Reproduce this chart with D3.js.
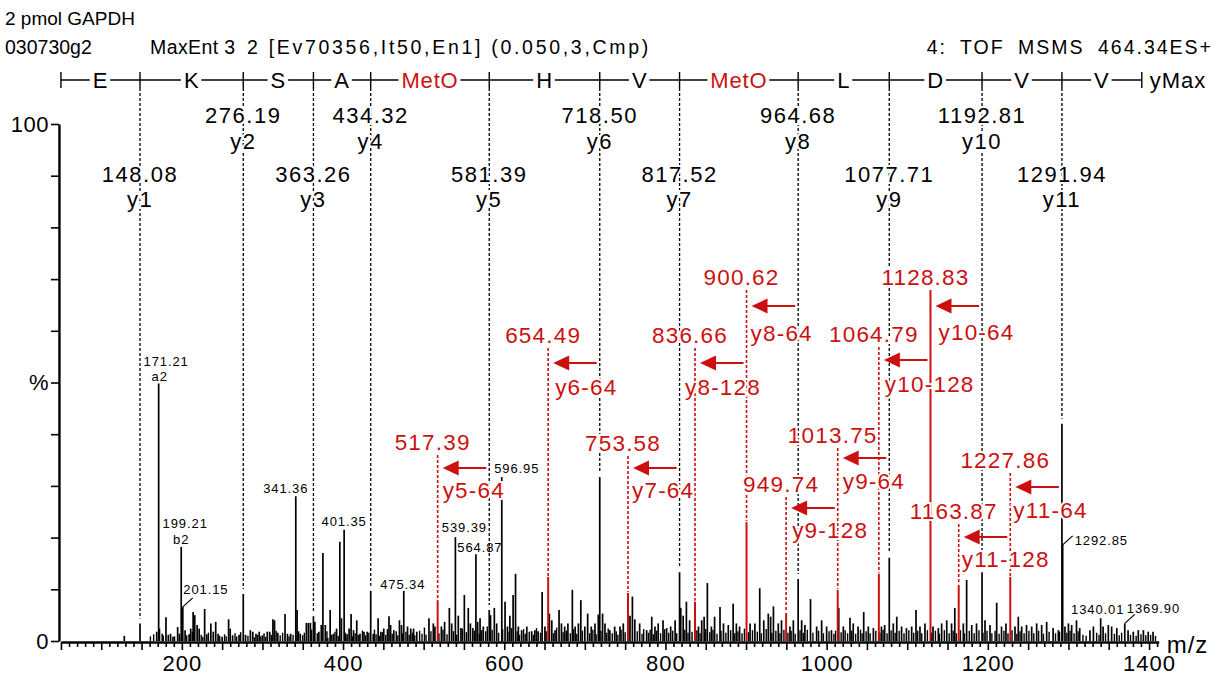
<!DOCTYPE html>
<html>
<head>
<meta charset="utf-8">
<script src="https://cdn.jsdelivr.net/npm/d3@7"></script>
<style>
  html, body { margin: 0; padding: 0; background: #fff; }
  svg { display: block; font-family: "Liberation Sans", Arial, sans-serif; }
</style>
</head>
<body>
<svg id="chart" width="1223" height="675"></svg>
<script>
// ---------- spectrum data ----------
const titleLine = "2 pmol GAPDH";
const runInfo = ["030730g2", "MaxEnt 3", "2 [Ev70356,It50,En1] (0.050,3,Cmp)"];
const scanInfo = "4: TOF MSMS 464.34ES+";

// peptide read from the y-ion ladder (C-terminus on the right)
const residues = ["E", "K", "S", "A", "MetO", "H", "V", "MetO", "L", "D", "V", "V"];
const modifiedResidue = "MetO";
const yIonNames = ["y1", "y2", "y3", "y4", "y5", "y6", "y7", "y8", "y9", "y10", "y11"];
const yIonMz = [148.08, 276.19, 363.26, 434.32, 581.39, 718.50, 817.52, 964.68, 1077.71, 1192.81, 1291.94];
const yMaxMz = 1391.0;

// neutral-loss (-64 / -128) fragments of the oxidised methionines
const lossMz = [517.39, 654.49, 753.58, 836.66, 900.62, 949.74, 1013.75, 1064.79, 1128.83, 1163.87, 1227.86];
const lossNames = ["y5-64", "y6-64", "y7-64", "y8-128", "y8-64", "y9-128", "y9-64", "y10-128", "y10-64", "y11-128", "y11-64"];
const lossParentMz = [581.39, 718.50, 817.52, 900.62, 964.68, 1013.75, 1077.71, 1128.83, 1192.81, 1227.86, 1291.94];
const lossPct = [7.9, 12.4, 9.3, 7.6, 23.0, 5.4, 9.9, 13.0, 6.4, 10.8, 12.4];

// other annotated peaks
const peakLabelMz = [171.21, 199.21, 201.15, 341.36, 401.35, 475.34, 539.39, 564.87, 596.95, 1292.85, 1340.01, 1369.90];
const peakLabelIon = ["a2", "b2", "", "", "", "", "", "", "", "", "", ""];

// centroided peak list [m/z, relative intensity %]
const peaks = [
  [128.6,1.0],[148.08,3.4],[168.8,1.8],[171.21,49.8],[172.2,2.4],[175.7,1.4],[180.3,4.6],[183.2,1.2],[186.0,1.4],[189.0,0.8],
  [194.8,2.7],[197.0,1.4],[199.21,18.2],[201.15,6.6],[204.0,2.1],[209.0,1.3],[211.0,2.4],[214.0,5.6],[216.0,5.0],[219.0,3.1],
  [221.5,2.4],[228.3,6.2],[231.0,1.3],[236.0,3.4],[239.0,1.8],[242.0,3.7],[245.0,1.4],[250.0,0.8],[258.0,4.2],[260.0,2.4],
  [263.0,1.1],[271.0,1.2],[276.19,9.1],[279.0,1.2],[285.0,2.1],[288.0,1.8],[292.0,1.4],[296.0,1.8],[300.0,1.1],[306.0,1.8],
  [309.0,1.8],[313.0,4.2],[315.0,4.0],[319.0,1.6],[328.0,5.2],[331.0,1.4],[335.0,1.4],[341.36,28.0],[343.0,6.0],[347.0,1.4],
  [354.5,3.5],[357.0,3.5],[359.5,3.5],[363.26,4.8],[365.0,3.7],[370.0,1.8],[373.0,3.1],[375.0,17.0],[378.0,3.1],[381.0,0.6],
  [384.0,6.0],[388.0,1.4],[392.0,2.4],[396.0,19.2],[398.0,4.4],[401.35,21.5],[405.0,1.3],[407.5,2.4],[410.0,5.2],[413.0,2.1],
  [417.0,4.0],[421.0,1.4],[426.0,1.8],[430.0,1.8],[434.32,9.7],[437.5,1.4],[443.5,4.4],[447.0,1.8],[450.5,2.4],[457.0,4.8],
  [459.0,3.1],[463.0,2.1],[470.0,4.0],[472.5,3.1],[475.34,9.7],[480.0,2.8],[484.0,2.4],[487.5,2.4],[491.5,1.8],[506.6,4.4],
  [512.0,3.4],[514.0,2.8],[522.0,2.8],[526.0,3.7],[531.9,6.4],[534.8,3.4],[539.39,20.1],[543.0,4.9],[546.3,2.5],[550.5,8.9],
  [555.4,6.4],[558.0,3.4],[561.0,2.5],[564.87,16.8],[567.0,3.7],[570.0,4.4],[574.0,2.8],[581.39,6.0],[583.0,5.0],[587.7,6.4],
  [590.6,3.4],[596.95,31.7],[601.0,7.6],[604.0,2.8],[607.0,4.9],[611.0,8.9],[614.0,13.0],[617.5,2.8],[621.6,2.1],[628.0,2.8],
  [634.0,1.9],[638.0,2.1],[642.0,1.9],[647.0,9.5],[650.5,2.8],[656.0,5.3],[659.0,4.0],[663.0,2.1],[668.0,6.0],[671.0,3.4],
  [675.0,2.8],[679.0,3.4],[684.5,9.9],[688.0,2.8],[692.0,3.4],[695.0,7.9],[700.0,2.8],[703.5,5.3],[708.0,2.8],[712.6,3.4],
  [716.7,5.1],[718.50,31.7],[722.0,5.3],[725.0,3.4],[731.0,2.1],[737.0,2.8],[743.6,2.8],[747.7,3.4],[756.0,4.9],[759.0,8.6],
  [762.0,4.2],[768.0,3.4],[776.7,2.1],[783.0,4.7],[787.0,2.8],[791.0,3.4],[797.0,4.0],[801.5,2.5],[806.5,2.8],[812.0,4.0],
  [817.52,13.3],[819.0,6.4],[822.0,4.9],[826.0,7.6],[830.0,4.0],[841.0,2.8],[845.0,4.0],[848.0,4.7],[852.0,11.2],[857.0,2.8],
  [861.0,4.7],[867.7,6.6],[872.0,3.4],[878.0,3.1],[884.0,7.2],[888.0,3.4],[892.0,2.8],[905.0,3.4],[911.0,3.4],[917.0,10.2],
  [922.0,4.0],[927.6,5.3],[930.5,4.7],[934.0,6.7],[940.0,3.4],[944.0,4.0],[954.5,2.8],[958.7,4.0],[964.68,12.0],[969.0,4.0],
  [973.0,3.1],[980.0,8.1],[987.6,2.8],[993.8,4.0],[1000.0,2.8],[1006.0,2.1],[1015.0,6.4],[1020.7,2.8],[1029.0,4.5],[1033.0,3.4],
  [1039.0,2.8],[1046.0,5.6],[1051.7,2.8],[1058.0,2.5],[1068.0,2.8],[1072.0,3.1],[1077.71,16.1],[1082.7,3.4],[1087.0,4.7],[1093.0,2.8],
  [1099.0,2.5],[1105.5,2.8],[1110.9,6.0],[1115.8,2.8],[1122.0,3.4],[1132.0,2.8],[1138.6,2.5],[1142.7,3.4],[1149.0,4.0],[1155.0,3.4],
  [1159.0,6.4],[1169.6,3.4],[1173.7,11.8],[1180.0,3.1],[1186.0,3.4],[1192.81,13.3],[1196.5,4.0],[1202.7,3.1],[1211.0,7.4],[1217.0,2.8],
  [1222.5,3.4],[1233.7,2.8],[1237.8,4.7],[1242.0,2.8],[1248.0,3.1],[1254.4,2.8],[1260.6,3.4],[1266.8,3.1],[1273.0,3.7],[1281.0,2.5],
  [1287.5,2.1],[1291.94,42.0],[1292.85,18.6],[1295.7,2.8],[1300.0,3.4],[1304.0,3.1],[1310.0,4.0],[1314.0,2.5],[1326.7,2.1],[1331.0,2.8],
  [1340.01,4.4],[1343.0,2.8],[1349.5,3.1],[1353.6,2.8],[1360.0,2.5],[1369.90,3.4],[1374.0,2.1],[1380.5,1.8],[1386.7,2.1],[1393.0,2.1],
  [1399.0,1.8],[1405.0,1.8]
];

// low-level chemical noise between the main peaks
const noisePeaks = [
  [161,0.9],[165,1.3],[177,1.0],[191,0.9],[206,1.1],[213,1.8],[224,1.2],[226,0.8],[233,1.6],[247,1.0],[253,1.3],[255,0.9],
  [266,1.5],[268,0.9],[273,1.7],[282,1.0],[290,0.7],[294,1.2],[298,0.9],[302,1.5],[304,0.8],[311,1.2],[317,2.0],[322,1.1],
  [325,1.6],[333,0.9],[338,1.2],[345,1.9],[350,1.1],[352,1.6],[361,2.2],[368,1.5],[380,1.9],[386,1.2],[390,1.8],[394,1.0],
  [403,1.6],[412,0.9],[415,1.5],[419,1.2],[424,2.0],[428,1.1],[432,1.6],[439,2.2],[441,1.3],[445,1.0],[449,1.7],[453,1.2],
  [455,2.3],[461,1.4],[466,1.9],[468,1.1],[474,1.5],[478,1.8],[482,1.2],[486,1.6],[489,1.1],[495,2.0],[498,1.4],[501,2.6],
  [503,1.2],[509,1.9],[519,1.5],[524,2.2],[529,1.3],[537,1.9],[541,1.2],[548,2.4],[553,1.7],[563,2.0],[569,1.4],[572,2.1],
  [577,1.9],[579,2.8],[585,2.2],[593,1.6],[598,2.3],[606,1.8],[609,2.5],[616,1.9],[619,1.2],[624,2.3],[626,1.4],[631,1.8],
  [636,1.2],[640,2.5],[645,1.6],[652,1.9],[661,1.5],[665,2.6],[673,1.7],[677,2.0],[682,1.5],[686,2.3],[690,1.4],[697,2.0],
  [706,1.5],[710,2.2],[714,1.3],[720,2.0],[727,1.6],[729,2.4],[734,1.5],[739,1.9],[741,1.2],[745,2.2],[750,1.7],[765,1.9],
  [771,1.4],[773,2.3],[779,1.6],[781,2.2],[785,1.3],[789,2.0],[794,1.5],[799,2.3],[804,1.6],[809,2.0],[814,1.5],[824,2.2],
  [828,1.6],[833,1.8],[839,2.1],[843,1.5],[850,2.3],[855,1.7],[859,2.2],[864,1.4],[869,2.0],[875,1.6],[881,2.1],[886,1.5],
  [890,1.9],[895,1.5],[898,2.4],[903,1.7],[908,2.1],[914,1.8],[919,1.5],[925,2.3],[932,1.6],[937,2.0],[942,1.5],[947,2.2],
  [952,1.6],[956,2.0],[961,1.4],[967,2.1],[971,1.6],[976,2.2],[983,1.6],[990,2.0],[996,1.5],[1003,1.9],[1009,1.4],[1011,2.0],
  [1018,1.7],[1023,2.1],[1026,1.5],[1031,2.0],[1036,1.4],[1042,2.2],[1044,1.5],[1049,1.9],[1054,1.5],[1061,2.0],[1066,1.6],
  [1070,2.2],[1075,1.5],[1080,2.1],[1085,1.6],[1090,2.0],[1096,1.5],[1102,2.1],[1108,1.6],[1113,2.0],[1118,1.5],[1125,2.1],
  [1130,1.6],[1135,2.0],[1140,1.4],[1146,2.1],[1152,1.5],[1157,2.0],[1161,1.5],[1166,2.1],[1171,1.5],[1177,2.0],[1183,1.5],
  [1189,2.1],[1194,1.6],[1199,2.0],[1205,1.5],[1209,2.0],[1214,1.4],[1220,2.0],[1225,1.5],[1230,2.1],[1236,1.4],[1240,1.9],
  [1245,1.5],[1251,2.0],[1257,1.5],[1263,2.0],[1269,1.4],[1276,1.8],[1284,1.5],[1289,1.8],[1298,1.6],[1302,2.0],[1307,1.5],
  [1312,1.9],[1318,1.2],[1322,1.0],[1335,1.6],[1338,1.2],[1346,1.5],[1357,1.4],[1363,1.1],[1366,1.6],[1377,1.2],[1384,1.0],
  [1390,1.3],[1396,1.1],[1402,1.2],[1408,1.0]
];

const xTickLabels = [200, 400, 600, 800, 1000, 1200, 1400];
const yTickLabels = {0: "0", 50: "%", 100: "100"};

// ---------- layout ----------
const RED = "#cc1010";
const barY = 80;
const ionRowMassY = [182, 123];    // odd-numbered ions on the lower row
const ionRowNameY = [207, 149];
const lossLabelY = [450, 343, 451, 343, 285, 492, 443, 342, 285, 519, 468];
const lossArrowY = [468, 363, 468, 363, 306, 508, 458, 360, 306, 537, 487];
const lossNameY  = [498, 395, 498, 395, 341, 538, 489, 392, 340, 567, 518];
const lossNameDx = [5, 7, 4, -10, 4, 6, 5, 6, 8, 3, 3];
const lossSolidLine = [false, false, false, false, false, false, false, false, true, false, false];
// small peak labels: [dx of text, dy of baseline from peak top, anchor, leader]
const peakLabelPlace = [
  [7.5, -18, "middle", false], [4, -19, "middle", false], [0.5, -13, "start", true],
  [-10, -3, "middle", false], [0, -4, "middle", false], [-1, -2, "middle", false],
  [9, -5, "middle", false], [4, -2, "middle", false], [15, -4, "middle", false],
  [12, 0, "start", true], [-3, -4, "middle", false], [2, -10, "start", true]
];
const peakIonDx = [1, 0];

const svg = d3.select("#chart");

const x = d3.scaleLinear().domain([50, 1412]).range([60.95, 1158.7]);
const y = d3.scaleLinear().domain([0, 100]).range([641, 124]);

const pctAt = mz => {
  const p = peaks.find(d => Math.abs(d[0] - mz) < 0.01);
  return p ? p[1] : 0;
};

// ---------- header ----------
svg.append("text").attr("x", 5).attr("y", 25).attr("font-size", 19).text(titleLine);
const runX = [5, 150, 247];
const runSpacing = [0, 0.4, 2.7];
runInfo.forEach((t, i) => {
  svg.append("text").attr("x", runX[i]).attr("y", 54).attr("font-size", 19.5)
    .attr("letter-spacing", runSpacing[i]).text(t);
});
svg.append("text").attr("x", 1213).attr("y", 54).attr("font-size", 19.5)
  .attr("letter-spacing", 2).attr("word-spacing", 6)
  .attr("text-anchor", "end").text(scanInfo);

// ---------- peaks ----------
const gPeaks = svg.append("g");
gPeaks.selectAll("line.n").data(noisePeaks).join("line")
  .attr("x1", d => x(d[0])).attr("x2", d => x(d[0]))
  .attr("y1", y(0)).attr("y2", d => y(d[1]))
  .attr("stroke", "#000").attr("stroke-width", 1.4);
gPeaks.selectAll("line.p").data(peaks).join("line")
  .attr("x1", d => x(d[0])).attr("x2", d => x(d[0]))
  .attr("y1", y(0)).attr("y2", d => y(d[1]))
  .attr("stroke", "#000").attr("stroke-width", 1.7);

// ---------- sequence bar ----------
const gBar = svg.append("g");
const cuts = [x(50)].concat(yIonMz.map(x), [x(yMaxMz)]);
gBar.append("line").attr("x1", cuts[0]).attr("x2", cuts[cuts.length - 1])
  .attr("y1", barY).attr("y2", barY).attr("stroke", "#000").attr("stroke-width", 1.4);
cuts.forEach(cx => {
  gBar.append("line").attr("x1", cx).attr("x2", cx).attr("y1", barY - 8).attr("y2", barY + 8)
    .attr("stroke", "#000").attr("stroke-width", 1.4);
});
residues.forEach((r, i) => {
  const t = gBar.append("text")
    .attr("x", (cuts[i] + cuts[i + 1]) / 2).attr("y", barY + 8)
    .attr("text-anchor", "middle").attr("font-size", 22).attr("letter-spacing", 0.8)
    .attr("fill", r === modifiedResidue ? RED : "#000")
    .text(r);
  // knock the bar line out behind the residue name
  const b = t.node().getBBox();
  gBar.insert("rect", () => t.node())
    .attr("x", b.x - 3).attr("y", barY - 3).attr("width", b.width + 5).attr("height", 6)
    .attr("fill", "#fff");
});
gBar.append("text").attr("x", x(yMaxMz) + 8).attr("y", barY + 8)
  .attr("font-size", 22).attr("letter-spacing", 1).text("yMax");

// ---------- y-ion ladder ----------
const gIon = svg.append("g");
yIonMz.forEach(mz => {
  const top = y(pctAt(mz));
  gIon.append("line").attr("x1", x(mz)).attr("x2", x(mz))
    .attr("y1", barY + 8).attr("y2", top - 5)
    .attr("stroke", "#000").attr("stroke-width", 1.3).attr("stroke-dasharray", "3,2");
});
yIonMz.forEach((mz, i) => {
  const row = i % 2 === 0 ? 0 : 1;
  const t = [[mz.toFixed(2), ionRowMassY[row]], [yIonNames[i], ionRowNameY[row]]];
  t.forEach(([s, ty]) => {
    gIon.append("text").attr("x", x(mz)).attr("y", ty)
      .attr("text-anchor", "middle").attr("font-size", 22).attr("letter-spacing", 1.5)
      .attr("stroke", "#fff").attr("stroke-width", 4).attr("paint-order", "stroke")
      .text(s);
  });
});

// ---------- neutral-loss annotations ----------
const gLoss = svg.append("g");
lossMz.forEach((mz, i) => {
  const cx = x(mz);
  gLoss.append("line").attr("x1", cx).attr("x2", cx)
    .attr("y1", y(0)).attr("y2", y(lossPct[i]))
    .attr("stroke", RED).attr("stroke-width", 2);
  gLoss.append("line").attr("x1", cx).attr("x2", cx)
    .attr("y1", lossLabelY[i] + 5)
    .attr("y2", lossSolidLine[i] ? y(lossPct[i]) : y(lossPct[i]) - 1)
    .attr("stroke", RED).attr("stroke-width", lossSolidLine[i] ? 2 : 1.6)
    .attr("stroke-dasharray", lossSolidLine[i] ? null : "3,2");
});
lossMz.forEach((mz, i) => {
  const cx = x(mz);
  const ay = lossArrowY[i];
  const head = cx + 5, tail = x(lossParentMz[i]) - 3;
  gLoss.append("line").attr("x1", head + 10).attr("x2", tail)
    .attr("y1", ay).attr("y2", ay).attr("stroke", RED).attr("stroke-width", 2.2);
  gLoss.append("path")
    .attr("d", `M${head},${ay} L${head + 16},${ay - 7.5} L${head + 16},${ay + 7.5} Z`)
    .attr("fill", RED);
  gLoss.append("text").attr("x", cx - 5).attr("y", lossLabelY[i])
    .attr("text-anchor", "middle").attr("font-size", 22.5).attr("letter-spacing", 1.2)
    .attr("fill", RED).attr("stroke", "#fff").attr("stroke-width", 4).attr("paint-order", "stroke")
    .text(mz.toFixed(2));
  gLoss.append("text").attr("x", cx + lossNameDx[i]).attr("y", lossNameY[i])
    .attr("font-size", 22.5).attr("letter-spacing", 1.2)
    .attr("fill", RED).attr("stroke", "#fff").attr("stroke-width", 4).attr("paint-order", "stroke")
    .text(lossNames[i]);
});

// ---------- small peak labels ----------
const gLab = svg.append("g");
peakLabelMz.forEach((mz, i) => {
  const [dx, dy, anchor, leader] = peakLabelPlace[i];
  const px = x(mz), py = y(pctAt(mz));
  const ion = peakLabelIon[i];
  if (leader) {
    gLab.append("line").attr("x1", px).attr("y1", py)
      .attr("x2", px + 10).attr("y2", py - 9)
      .attr("stroke", "#000").attr("stroke-width", 1.2);
  }
  gLab.append("text").attr("x", px + dx).attr("y", py + dy)
    .attr("text-anchor", anchor).attr("font-size", 13).attr("letter-spacing", 0.9)
    .text(mz.toFixed(2));
  if (ion) {
    gLab.append("text").attr("x", px + peakIonDx[i]).attr("y", py - 3)
      .attr("text-anchor", "middle").attr("font-size", 13).attr("letter-spacing", 0.9)
      .text(ion);
  }
});

// ---------- axes ----------
const xAxis = d3.axisBottom(x)
  .tickValues(d3.range(50, 1411, 10))
  .tickSizeInner(5).tickSizeOuter(0)
  .tickFormat(d => xTickLabels.includes(d) ? d : "");
const gx = svg.append("g").attr("transform", `translate(0,${y(0) + 1})`).call(xAxis);
gx.select(".domain").attr("stroke-width", 2.6);
gx.selectAll(".tick line").attr("stroke-width", 1.6)
  .attr("y2", d => d % 50 === 0 ? 8 : 5);
gx.selectAll(".tick text").attr("font-size", 22).attr("letter-spacing", 1)
  .attr("font-family", "Liberation Sans, Arial, sans-serif")
  .attr("dy", "0.95em");
svg.append("text").attr("x", x(1412) + 8).attr("y", y(0) + 12)
  .attr("font-size", 24).attr("letter-spacing", 1).text("m/z");

const yAxis = d3.axisLeft(y)
  .tickValues(d3.range(0, 101, 10))
  .tickSizeInner(8).tickSizeOuter(0)
  .tickFormat(d => yTickLabels[d] || "");
const gy = svg.append("g").attr("transform", `translate(${x(50) - 2},0)`).call(yAxis);
gy.select(".domain").attr("stroke-width", 2.4);
gy.selectAll(".tick line").attr("stroke-width", 1.6);
gy.selectAll(".tick text").attr("font-size", 22).attr("letter-spacing", 0.5)
  .attr("font-family", "Liberation Sans, Arial, sans-serif")
  .attr("x", -10);
</script>
</body>
</html>
